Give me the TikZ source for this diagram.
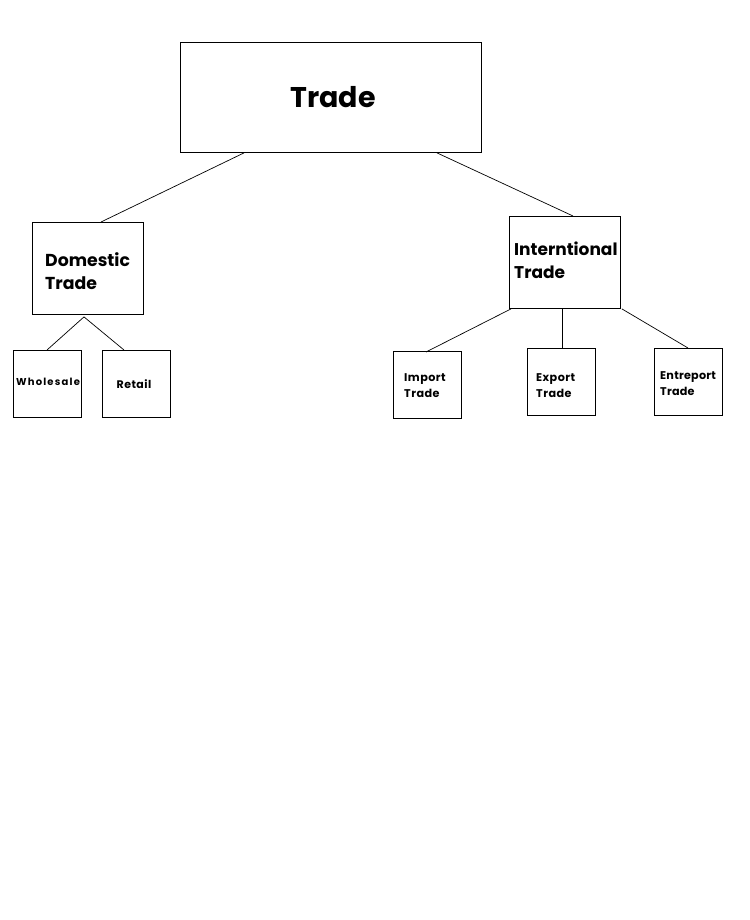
\documentclass[tikz,border=0pt]{standalone}
\usepackage{fontspec}
\setmainfont{Poppins}
\usetikzlibrary{calc}
\begin{document}
\begin{tikzpicture}[x=1pt,y=-1pt,
  box/.style={draw=black,line width=0.9pt,fill=white,inner sep=0pt,anchor=north west},
  con/.style={draw=black,line width=0.7pt},
  txt/.style={inner sep=0pt,align=left,font=\bfseries}]
\useasboundingbox[fill=white] (0,0) rectangle (749,920);
% boxes
\node[box,minimum width=301pt,minimum height=110pt] (trade) at (180,42) {};
\node[box,minimum width=111pt,minimum height=92pt] (dom) at (32,222) {};
\node[box,minimum width=111pt,minimum height=92pt] (intl) at (509,216) {};
\node[box,minimum width=68pt,minimum height=67pt] (whole) at (13,350) {};
\node[box,minimum width=68pt,minimum height=67pt] (retail) at (102,350) {};
\node[box,minimum width=68pt,minimum height=67pt] (import) at (393,351) {};
\node[box,minimum width=68pt,minimum height=67pt] (export) at (527,348) {};
\node[box,minimum width=68pt,minimum height=67pt] (entre) at (654,348) {};
% texts
\node[txt,font=\bfseries\fontsize{28.5}{34}\selectfont] (ttrade) at (333,97) {Trade};
\node[txt,anchor=west,font=\bfseries\fontsize{17.3}{23}\selectfont] (tdom) at (45,271) {Domestic\\Trade};
\node[txt,anchor=west,font=\bfseries\fontsize{17}{23}\selectfont] (tintl) at (514,260) {Interntional\\Trade};
\node[txt,font=\bfseries\fontsize{10}{12}\selectfont\addfontfeatures{LetterSpace=12}] (twhole) at (48,382) {Wholesale};
\node[txt,font=\bfseries\fontsize{11}{13}\selectfont\addfontfeatures{LetterSpace=4}] (tretail) at (134,384) {Retail};
\node[txt,anchor=west,font=\bfseries\fontsize{11.2}{16}\selectfont\addfontfeatures{LetterSpace=4}] (timport) at (404,386) {Import\\Trade};
\node[txt,anchor=west,font=\bfseries\fontsize{11.2}{16}\selectfont\addfontfeatures{LetterSpace=4}] (texport) at (536,386) {Export\\Trade};
\node[txt,anchor=west,font=\bfseries\fontsize{11.2}{16}\selectfont\addfontfeatures{LetterSpace=2}] (tentre) at (660,384) {Entreport\\Trade};
% connectors
\draw[con] ($(trade.south west)+(64,0)$) -- ($(dom.north west)+(69,0)$);
\draw[con] ($(trade.south west)+(257,0)$) -- ($(intl.north west)+(64,0)$);
\coordinate (dsplit) at ($(dom.south west)+(52,2)$);
\draw[con] (dsplit) -- ($(whole.north west)+(34,0)$);
\draw[con] (dsplit) -- ($(retail.north west)+(22,0)$);
\draw[con] ($(intl.south west)+(2,0)$) -- ($(import.north west)+(33,1)$);
\draw[con] ($(intl.south west)+(53,0)$) -- ($(export.north west)+(35,0)$);
\draw[con] ($(intl.south east)+(1,0)$) -- ($(entre.north west)+(34,0)$);
\end{tikzpicture}
\end{document}
